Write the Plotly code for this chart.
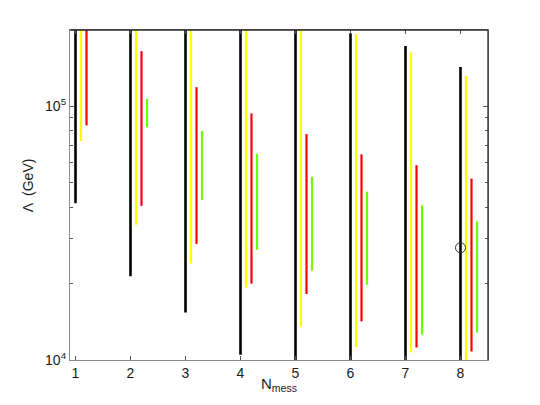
import plotly.graph_objects as go

# Data
n_mess = [1, 2, 3, 4, 5, 6, 7, 8]

black_low  = [4.15e4, 2.14e4, 1.54e4, 1.05e4, 9.0e3, 9.0e3, 9.0e3, 9.0e3]
black_high = [2.5e5, 2.5e5, 2.5e5, 2.5e5, 2.5e5, 1.94e5, 1.73e5, 1.43e5]

yellow_low  = [7.3e4, 3.41e4, 2.40e4, 1.93e4, 1.35e4, 1.125e4, 1.07e4, 9.0e3]
yellow_high = [2.5e5, 2.5e5, 2.5e5, 2.5e5, 2.5e5, 1.93e5, 1.63e5, 1.32e5]

red_low  = [8.41e4, 4.05e4, 2.87e4, 2.0e4, 1.82e4, 1.42e4, 1.12e4, 1.08e4]
red_high = [2.5e5, 1.65e5, 1.19e5, 9.38e4, 7.77e4, 6.47e4, 5.86e4, 5.19e4]

green_n    = [2, 3, 4, 5, 6, 7, 8]
green_low  = [8.26e4, 4.27e4, 2.72e4, 2.25e4, 1.98e4, 1.26e4, 1.28e4]
green_high = [1.07e5, 8.0e4, 6.51e4, 5.27e4, 4.61e4, 4.07e4, 3.52e4]

point_n = [8]
point_val = [2.77e4]

x_tick_vals = [1, 2, 3, 4, 5, 6, 7, 8]
y_major_vals = [1e4, 1e5]
y_major_text = ["10<sup>4</sup>", "10<sup>5</sup>"]
y_minor_vals = [2e4, 3e4, 4e4, 5e4, 6e4, 7e4, 8e4, 9e4, 2e5]


def segments(ns, lows, highs, offset):
    xs, ys = [], []
    for n, lo, hi in zip(ns, lows, highs):
        xs += [n + offset, n + offset, None]
        ys += [lo, hi, None]
    return xs, ys


fig = go.Figure()
series = [
    (n_mess, black_low, black_high, 0.0, "#000000", 2.6),
    (n_mess, yellow_low, yellow_high, 0.1, "#ffff00", 2.2),
    (n_mess, red_low, red_high, 0.2, "#ff0000", 2.2),
    (green_n, green_low, green_high, 0.3, "#6cff00", 2.2),
]
for ns, lo, hi, off, col, w in series:
    xs, ys = segments(ns, lo, hi, off)
    fig.add_trace(go.Scatter(x=xs, y=ys, mode="lines",
                             line=dict(color=col, width=w),
                             hoverinfo="skip", showlegend=False))

fig.add_trace(go.Scatter(x=point_n, y=point_val, mode="markers",
                         marker=dict(symbol="circle-open", size=10,
                                     color="#333333", line=dict(width=1)),
                         showlegend=False))

axis_gray = "#8a8a8a"
fig.update_layout(
    width=540, height=405,
    margin=dict(l=70, r=52, t=30, b=45),
    paper_bgcolor="white", plot_bgcolor="white",
    font=dict(family="Liberation Sans, Arial, sans-serif", size=14, color="#1a1a1a"),
    xaxis=dict(range=[0.9, 8.5], tickvals=x_tick_vals,
               ticks="inside", ticklen=4, tickcolor="#555555",
               showline=True, linecolor=axis_gray, linewidth=1.2, mirror="ticks",
               showgrid=False, zeroline=False),
    yaxis=dict(type="log", range=[4, 5.301],
               tickvals=y_major_vals, ticktext=y_major_text,
               ticks="inside", ticklen=5, tickcolor="#555555",
               minor=dict(tickvals=y_minor_vals, ticks="inside", ticklen=3,
                          tickcolor="#555555", showgrid=False),
               showline=True, linecolor=axis_gray, linewidth=1.2, mirror="ticks",
               showgrid=False, zeroline=False),
    shapes=[
        dict(type="line", xref="paper", yref="paper", x0=0, x1=1, y0=1, y1=1,
             line=dict(color="#2a2a2a", width=1.3), layer="above"),
        dict(type="line", xref="paper", yref="paper", x0=1, x1=1, y0=0, y1=1,
             line=dict(color="#2a2a2a", width=1.3), layer="above"),
    ],
    annotations=[
        dict(text="Λ  (GeV)", xref="paper", yref="paper", x=-0.1, y=0.53,
             xanchor="center", yanchor="middle", textangle=-90, showarrow=False,
             font=dict(size=14)),
        dict(text="N<sub>mess</sub>", xref="paper", yref="paper", x=0.5, y=-0.04,
             xanchor="center", yanchor="top", showarrow=False,
             font=dict(size=15)),
    ],
)

fig.write_html("out.html",
               config={"displayModeBar": False},
               post_script="document.body.style.margin='0px';"
                           "document.body.style.overflow='hidden';")
